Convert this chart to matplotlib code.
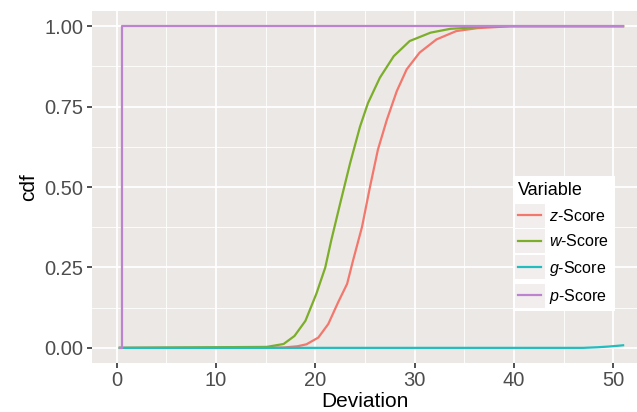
import numpy as np
import matplotlib
matplotlib.use('Agg')
import matplotlib.pyplot as plt
from matplotlib.legend_handler import HandlerLine2D
from matplotlib.patches import Rectangle
from matplotlib.lines import Line2D

plt.rcParams['font.family'] = 'Liberation Sans'
plt.rcParams['mathtext.fontset'] = 'custom'
plt.rcParams['mathtext.rm'] = 'Liberation Sans'
plt.rcParams['mathtext.it'] = 'Liberation Sans:italic'

# ecdf curves
z_x = [0.3, 16.8, 18.2, 19.1, 20.3, 21.3, 22.3, 23.2, 23.8, 24.7, 25.5, 26.3, 27.2,
       28.2, 29.2, 30.5, 32.2, 34.2, 36.3, 39.6, 51.0]
z_y = [0.0, 0.001, 0.005, 0.011, 0.032, 0.074, 0.142, 0.199, 0.272, 0.376, 0.500,
       0.616, 0.709, 0.798, 0.866, 0.918, 0.959, 0.985, 0.994, 1.0, 1.0]

w_x = [0.3, 15.1, 16.8, 17.9, 19.0, 20.1, 21.0, 21.6, 22.5, 23.5, 24.5, 25.3,
       26.5, 27.9, 29.5, 31.6, 33.6, 36.9, 39.6, 51.0]
w_y = [0.0, 0.003, 0.012, 0.037, 0.084, 0.168, 0.250, 0.334, 0.449, 0.574, 0.688,
       0.761, 0.840, 0.907, 0.954, 0.980, 0.992, 0.998, 1.0, 1.0]

g_x = [0.3, 47.0, 48.5, 49.5, 50.3, 51.0]
g_y = [0.0, 0.0, 0.002, 0.004, 0.006, 0.008]

p_x = [0.3, 0.5, 0.5, 51.0]
p_y = [0.0, 0.0, 1.0, 1.0]

names = ['$z$-Score', '$w$-Score', '$g$-Score', '$p$-Score']
colors = ['#F2776D', '#7CAE2A', '#22BDBF', '#BC84D0']

x_ticks = [0, 10, 20, 30, 40, 50]
y_ticks = [0.0, 0.25, 0.5, 0.75, 1.0]


class KeyHandler(HandlerLine2D):
    # ggplot style key: grey box behind the line
    def create_artists(self, legend, orig_handle, xdescent, ydescent,
                       width, height, fontsize, trans):
        bg = Rectangle((-xdescent - 3, -ydescent - 5), width + 6, height + 10,
                       facecolor='#F2EEEE', edgecolor='white', lw=0.8,
                       transform=trans)
        arts = super().create_artists(legend, orig_handle, xdescent, ydescent,
                                      width, height, fontsize, trans)
        return [bg] + arts


fig = plt.figure(figsize=(6.37, 4.12), dpi=100)
ax = fig.add_axes([0.1444, 0.119, 0.8556, 0.854])
ax.set_facecolor('#ECE8E5')

handles = []
for xs, ys, c, n in zip([z_x, w_x, g_x, p_x], [z_y, w_y, g_y, p_y], colors, names):
    ax.plot(xs, ys, color=c, lw=1.6, solid_joinstyle='round')
    handles.append(Line2D([], [], color=c, lw=1.6, label=n))

ax.set_xlim(-2.5, 52.4)
ax.set_ylim(-0.047, 1.047)
ax.set_xticks(x_ticks)
ax.set_xticklabels([str(t) for t in x_ticks])
ax.set_yticks(y_ticks)
ax.set_yticklabels(['%.2f' % t for t in y_ticks])
ax.set_xticks([5, 15, 25, 35, 45], minor=True)
ax.set_yticks([0.125, 0.375, 0.625, 0.875], minor=True)
ax.grid(which='major', color='white', lw=1.3)
ax.grid(which='minor', color='white', lw=0.6)
ax.set_axisbelow(True)
for s in ax.spines.values():
    s.set_visible(False)
ax.tick_params(which='major', length=3.5, width=1.2, color='#333333',
               labelsize=14.5, labelcolor='#4D4D4D', pad=2.5)
ax.tick_params(which='minor', length=0)

ax.set_xlabel('Deviation', fontsize=15, color='black', labelpad=1)
ax.set_ylabel('cdf', fontsize=15, color='black', labelpad=5)

leg = ax.legend(handles=handles, title='Variable', loc='upper left',
                bbox_to_anchor=(0.772, 0.531), borderaxespad=0,
                fontsize=11.5, title_fontsize=13, frameon=True, fancybox=False,
                handlelength=1.4, handletextpad=0.55, labelspacing=0.58,
                borderpad=0.35, handler_map={Line2D: KeyHandler()})
leg.get_frame().set_facecolor('white')
leg.get_frame().set_edgecolor('none')
leg.get_frame().set_alpha(1)
leg._legend_box.align = 'left'

fig.savefig('out.png', dpi=100)
